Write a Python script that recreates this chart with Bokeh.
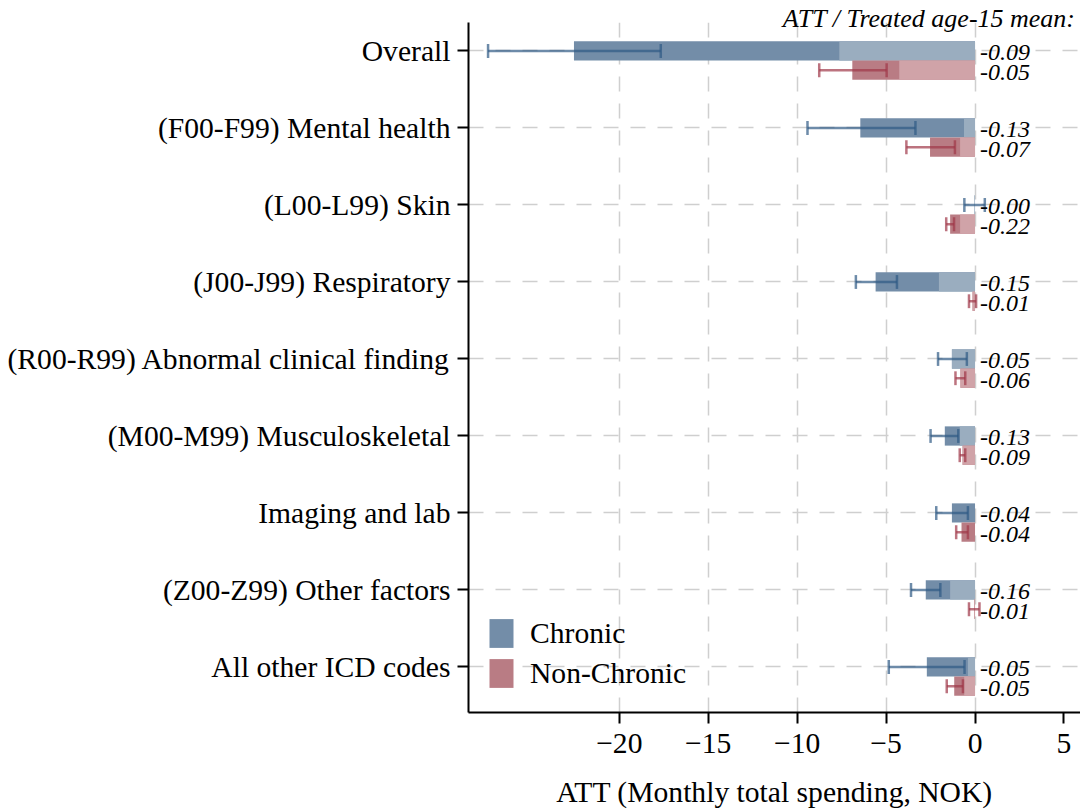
from bokeh.plotting import figure
from bokeh.models import Range1d, FixedTicker, Legend, LegendItem
from bokeh.embed import file_html
from bokeh.resources import INLINE
from bokeh.core.properties import value

categories = ["Overall", "(F00-F99) Mental health", "(L00-L99) Skin",
              "(J00-J99) Respiratory", "(R00-R99) Abnormal clinical finding",
              "(M00-M99) Musculoskeletal", "Imaging and lab",
              "(Z00-Z99) Other factors", "All other ICD codes"]

# Chronic
chronic_att = [-22.55, -6.45, -0.03, -5.59, -1.30, -1.70, -1.30, -2.77, -2.71]
chronic_lo = [-27.38, -9.42, -0.60, -6.70, -2.08, -2.50, -2.18, -3.60, -4.85]
chronic_hi = [-17.67, -3.35, 0.55, -4.39, -0.46, -0.94, -0.40, -1.95, -0.59]
chronic_light = [-7.63, -0.62, 0.0, -2.03, -1.30, -0.86, 0.0, -1.40, -0.40]
chronic_ratio = ["-0.09", "-0.13", "-0.00", "-0.15", "-0.05", "-0.13", "-0.04", "-0.16", "-0.05"]

# Non-Chronic
nc_att = [-6.90, -2.53, -1.40, -0.14, -0.82, -0.70, -0.76, -0.05, -1.17]
nc_lo = [-8.76, -3.86, -1.62, -0.34, -1.10, -0.86, -1.06, -0.34, -1.59]
nc_hi = [-4.97, -1.13, -1.18, 0.06, -0.55, -0.55, -0.40, 0.25, -0.68]
nc_light = [-4.26, -0.84, -0.84, -0.14, -0.82, -0.70, 0.0, -0.05, -0.61]
nc_ratio = ["-0.05", "-0.07", "-0.22", "-0.01", "-0.06", "-0.09", "-0.04", "-0.01", "-0.05"]

x_ticks = [-20, -15, -10, -5, 0, 5]
grid_ticks = [-20, -15, -10, -5, 0]

FONT = "Liberation Serif"
FS = "29.6px"
C_DARK = "#738da8"
C_LIGHT = "#9aadbf"
R_DARK = "#b97c84"
R_LIGHT = "#d0a3a8"
C_ERR = "#2f5a85"
R_ERR = "#a03848"

n = len(categories)
pos = list(range(n))
BAR_H = 0.25
c_y = [float(i) for i in pos]
r_y = [i + BAR_H for i in pos]
CAP = 0.09

p = figure(width=1080, height=811,
           x_range=Range1d(-28.48, 5.93), y_range=Range1d(8.591, -0.370),
           output_backend="svg", toolbar_location=None,
           min_border_left=468, min_border_right=0,
           min_border_top=22, min_border_bottom=99)
p.outline_line_color = None
p.background_fill_color = "white"

# title (overlapping the frame top, right aligned)
p.title.text = "ATT / Treated age-15 mean:"
p.title.align = "right"
p.title.text_font = FONT
p.title.text_font_style = "italic"
p.title.text_font_size = "26px"
p.title.text_color = "black"
p.title.standoff = -21
p.title.offset = 5

dark_c = p.hbar(y=c_y, left=0, right=chronic_att, height=BAR_H,
                fill_color=C_DARK, line_color=None)
p.hbar(y=c_y, left=0, right=chronic_light, height=BAR_H,
       fill_color=C_LIGHT, line_color=None)
dark_r = p.hbar(y=r_y, left=0, right=nc_att, height=BAR_H,
                fill_color=R_DARK, line_color=None)
p.hbar(y=r_y, left=0, right=nc_light, height=BAR_H,
       fill_color=R_LIGHT, line_color=None)

for ys, lo, hi, col in [(c_y, chronic_lo, chronic_hi, C_ERR), (r_y, nc_lo, nc_hi, R_ERR)]:
    p.segment(x0=lo, y0=ys, x1=hi, y1=ys, line_color=col, line_alpha=0.7, line_width=2.5)
    p.segment(x0=lo, y0=[y - CAP for y in ys], x1=lo, y1=[y + CAP for y in ys],
              line_color=col, line_alpha=0.7, line_width=2.5)
    p.segment(x0=hi, y0=[y - CAP for y in ys], x1=hi, y1=[y + CAP for y in ys],
              line_color=col, line_alpha=0.7, line_width=2.5)

for ys, labels in [(c_y, chronic_ratio), (r_y, nc_ratio)]:
    p.text(x=[0] * n, y=ys, text=labels,
           x_offset=5, y_offset=2, text_font=value(FONT), text_font_style="italic",
           text_font_size="24px", text_baseline="middle", text_align="left",
           text_color="black")

# axes
p.yaxis.ticker = FixedTicker(ticks=pos)
p.yaxis.major_label_overrides = {i: c for i, c in zip(pos, categories)}
p.xaxis.ticker = FixedTicker(ticks=x_ticks)
p.xaxis.major_label_overrides = {t: str(t).replace("-", "\u2212") for t in x_ticks}
p.xaxis.axis_label = "ATT (Monthly total spending, NOK)"
for ax in (p.xaxis, p.yaxis):
    ax.axis_line_color = "black"
    ax.axis_line_width = 2
    ax.major_tick_line_color = "black"
    ax.major_tick_line_width = 2
    ax.major_tick_out = 11
    ax.major_tick_in = 0
    ax.minor_tick_line_color = None
    ax.major_label_text_font = FONT
    ax.major_label_text_font_size = FS
    ax.major_label_text_color = "black"
    ax.axis_label_text_font = FONT
    ax.axis_label_text_font_size = FS
    ax.axis_label_text_font_style = "normal"
    ax.axis_label_text_color = "black"
p.yaxis.major_label_standoff = 7
p.xaxis.major_label_standoff = 10
p.xaxis.axis_label_standoff = 20

p.xgrid.ticker = FixedTicker(ticks=grid_ticks)
p.ygrid.ticker = FixedTicker(ticks=pos)
for g in (p.xgrid, p.ygrid):
    g.grid_line_color = "#cfcfcf"
    g.grid_line_width = 1.5
    g.grid_line_dash = "15 12"

legend = Legend(items=[LegendItem(label="Chronic", renderers=[dark_c]),
                       LegendItem(label="Non-Chronic", renderers=[dark_r])],
                location=(18, 21), orientation="vertical",
                glyph_width=30, glyph_height=36, label_height=36,
                label_standoff=14, spacing=4, padding=0, margin=0,
                label_text_font=FONT, label_text_font_size=FS,
                label_text_color="black",
                border_line_alpha=0, background_fill_alpha=0)
p.add_layout(legend)

open("out.html", "w").write(file_html(p, INLINE))
